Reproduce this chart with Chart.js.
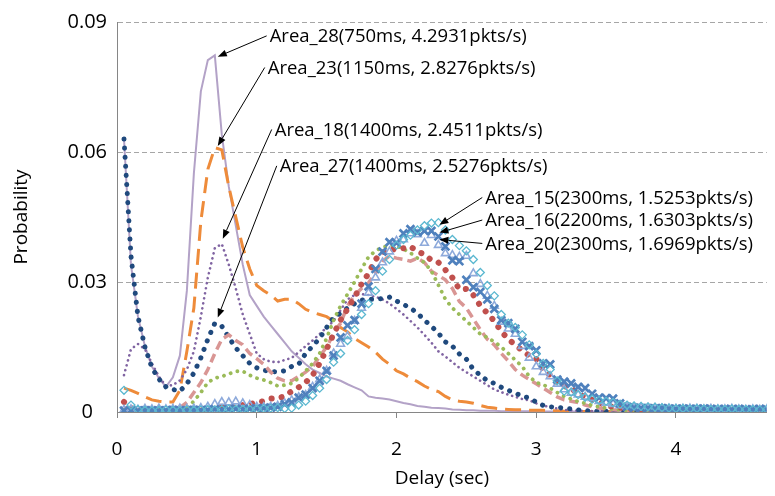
<!DOCTYPE html>
<html>
<head>
<meta charset="utf-8">
<script src="https://cdn.jsdelivr.net/npm/chart.js@4.4.1/dist/chart.umd.min.js"></script>
<style>
  html, body { margin: 0; padding: 0; background: #fff; }
</style>
</head>
<body>
<canvas id="chart" width="775" height="496"></canvas>
<script>
// delay bins (sec)
const delays = [
  0.05, 0.1, 0.15, 0.2, 0.25, 0.3, 0.35, 0.4, 0.45, 0.5,
  0.55, 0.6, 0.65, 0.7, 0.75, 0.8, 0.85, 0.9, 0.95, 1,
  1.05, 1.1, 1.15, 1.2, 1.25, 1.3, 1.35, 1.4, 1.45, 1.5,
  1.55, 1.6, 1.65, 1.7, 1.75, 1.8, 1.85, 1.9, 1.95, 2,
  2.05, 2.1, 2.15, 2.2, 2.25, 2.3, 2.35, 2.4, 2.45, 2.5,
  2.55, 2.6, 2.65, 2.7, 2.75, 2.8, 2.85, 2.9, 2.95, 3,
  3.05, 3.1, 3.15, 3.2, 3.25, 3.3, 3.35, 3.4, 3.45, 3.5,
  3.55, 3.6, 3.65, 3.7, 3.75, 3.8, 3.85, 3.9, 3.95, 4,
  4.05, 4.1, 4.15, 4.2, 4.25, 4.3, 4.35, 4.4, 4.45, 4.5,
  4.55, 4.6, 4.65
];

const area28 = [
  0.063, 0.034, 0.022, 0.0152, 0.0105, 0.0078, 0.0058, 0.008, 0.013, 0.028,
  0.055, 0.074, 0.0812, 0.0823, 0.064, 0.052, 0.043, 0.034, 0.027, 0.0245,
  0.022, 0.020, 0.018, 0.016, 0.014, 0.0125, 0.011, 0.0098, 0.009, 0.0082,
  0.0077, 0.0072, 0.0064, 0.0057, 0.005, 0.0036, 0.0033, 0.0031, 0.0029, 0.0025,
  0.0021, 0.0018, 0.0014, 0.0012, 0.001, 0.0009, 0.0008, 0.0006, 0.0005, 0.0004,
  0.0004, 0.0003, 0.0003, 0.0003, 0.0002, 0.0002, 0.0002, 0.0002, 0.0002, 0.0001,
  0.0001, 0.0001, 0.0001, 0.0001, 0.0001, 0.0001, 0.0001, 0.0001, 0.0001, 0.0001,
  0.0001, 0.0001, 0.0001, 0.0001, 0.0001, 0.0001, 0.0001, 0.0001, 0.0001, 0.0001,
  0.0001, 0.0001, 0.0001, 0.0001, 0.0001, 0.0001, 0.0001, 0.0001, 0.0001, 0.0001,
  0.0001, 0.0001, 0.0001
];

const area23 = [
  0.0055, 0.005, 0.0043, 0.0035, 0.0028, 0.0025, 0.0023, 0.0023, 0.005, 0.014,
  0.024, 0.044, 0.056, 0.061, 0.0605, 0.052, 0.045, 0.038, 0.033, 0.0292,
  0.028, 0.027, 0.0256, 0.026, 0.026, 0.025, 0.0237, 0.023, 0.0225, 0.022,
  0.021, 0.0195, 0.0185, 0.017, 0.016, 0.015, 0.0138, 0.0122, 0.011, 0.0095,
  0.0088, 0.0078, 0.007, 0.006, 0.0052, 0.0047, 0.0036, 0.0028, 0.0025, 0.0023,
  0.002, 0.0015, 0.0011, 0.0009, 0.0007, 0.0006, 0.0005, 0.0005, 0.0004, 0.0004,
  0.0004, 0.0003, 0.0003, 0.0002, 0.0002, 0.0001, 0.0001, 0.0001, 0.0001, 0.0001,
  0.0001, 0.0001, 0.0001, 0.0001, 0.0001, 0.0001, 0.0001, 0.0001, 0.0001, 0.0001,
  0.0001, 0.0001, 0.0001, 0.0001, 0.0001, 0.0001, 0.0001, 0.0001, 0.0001, 0.0001,
  0.0001, 0.0001, 0.0001
];

const area18 = [
  0.0085, 0.0145, 0.0157, 0.0145, 0.0112, 0.0082, 0.006, 0.0062, 0.0073, 0.0098,
  0.014, 0.022, 0.031, 0.0378, 0.0388, 0.034, 0.0285, 0.0225, 0.018, 0.0135,
  0.0122, 0.0116, 0.0115, 0.012, 0.0125, 0.0138, 0.0152, 0.0165, 0.018, 0.0195,
  0.021, 0.0235, 0.026, 0.027, 0.0272, 0.027, 0.0266, 0.026, 0.025, 0.0238,
  0.0225, 0.021, 0.0195, 0.0178, 0.016, 0.014, 0.0128, 0.0115, 0.0102, 0.0092,
  0.0082, 0.0072, 0.0062, 0.0052, 0.0046, 0.004, 0.0035, 0.003, 0.0027, 0.002,
  0.0015, 0.0011, 0.0008, 0.0005, 0.0004, 0.0003, 0.0003, 0.0002, 0.0002, 0.0002,
  0.0001, 0.0001, 0.0001, 0.0001, 0.0001, 0.0001, 0.0001, 0.0001, 0.0001, 0.0001,
  0.0001, 0.0001, 0.0001, 0.0001, 0.0001, 0.0001, 0.0001, 0.0001, 0.0001, 0.0001,
  0.0001, 0.0001, 0.0001
];

const area27 = [
  0.063, 0.036, 0.022, 0.015, 0.0102, 0.0076, 0.0058, 0.0052, 0.0048, 0.0065,
  0.009, 0.0125, 0.0168, 0.0205, 0.0198, 0.0172, 0.0148, 0.013, 0.0112, 0.0102,
  0.0096, 0.0094, 0.0092, 0.0095, 0.0105, 0.011, 0.0135, 0.0152, 0.017, 0.0195,
  0.0218, 0.0228, 0.024, 0.025, 0.0258, 0.026, 0.026, 0.0262, 0.0265, 0.0256,
  0.0248, 0.024, 0.0228, 0.0212, 0.0198, 0.0182, 0.0162, 0.0152, 0.0134, 0.0122,
  0.0098, 0.0085, 0.0072, 0.0066, 0.0057, 0.005, 0.0044, 0.0036, 0.0033, 0.0023,
  0.0015, 0.0012, 0.0011, 0.0009, 0.0007, 0.0005, 0.0003, 0.0002, 0.0002, 0.0002,
  0.0001, 0.0001, 0.0001, 0.0001, 0.0001, 0.0001, 0.0001, 0.0001, 0.0001, 0.0001,
  0.0001, 0.0001, 0.0001, 0.0001, 0.0001, 0.0001, 0.0001, 0.0001, 0.0001, 0.0001,
  0.0001, 0.0001, 0.0001
];

// unlabelled series (pink dashed, green dotted, red dotted)
const pinkSeries = [
  0.001, 0.0008, 0.0006, 0.0005, 0.0004, 0.0004, 0.0004, 0.0006, 0.001, 0.0022,
  0.0045, 0.0068, 0.0098, 0.0135, 0.0168, 0.0178, 0.0165, 0.0155, 0.0135, 0.0123,
  0.011, 0.0092, 0.0078, 0.0072, 0.0072, 0.0082, 0.0092, 0.0105, 0.0128, 0.015,
  0.018, 0.0205, 0.0245, 0.027, 0.0285, 0.0298, 0.032, 0.0348, 0.036, 0.0355,
  0.0352, 0.0348, 0.0355, 0.0345, 0.0325, 0.0315, 0.0305, 0.0285, 0.0255, 0.024,
  0.0215, 0.019, 0.0168, 0.0155, 0.0135, 0.0118, 0.0098, 0.0085, 0.0075, 0.0065,
  0.0055, 0.0045, 0.0035, 0.0028, 0.0025, 0.0022, 0.0016, 0.0012, 0.0009, 0.0007,
  0.0005, 0.0004, 0.0003, 0.0003, 0.0002, 0.0002, 0.0002, 0.0001, 0.0001, 0.0001,
  0.0001, 0.0001, 0.0001, 0.0001, 0.0001, 0.0001, 0.0001, 0.0001, 0.0001, 0.0001,
  0.0001, 0.0001, 0.0001
];

const greenSeries = [
  0.0005, 0.0005, 0.0004, 0.0004, 0.0004, 0.0004, 0.0004, 0.0005, 0.0008, 0.001,
  0.0025, 0.0045, 0.0068, 0.0078, 0.0082, 0.0088, 0.0094, 0.0094, 0.0085, 0.0078,
  0.0074, 0.0068, 0.006, 0.0062, 0.0066, 0.0078, 0.0095, 0.0112, 0.0135, 0.017,
  0.0212, 0.0245, 0.0272, 0.030, 0.033, 0.0358, 0.0372, 0.038, 0.0384, 0.0383,
  0.0376, 0.0367, 0.0355, 0.0345, 0.0325, 0.0293, 0.026, 0.024, 0.0225, 0.021,
  0.0195, 0.018, 0.0172, 0.0162, 0.015, 0.0135, 0.012, 0.0105, 0.0082, 0.0068,
  0.0063, 0.0055, 0.0045, 0.0036, 0.003, 0.0024, 0.002, 0.0015, 0.0012, 0.0009,
  0.0007, 0.0005, 0.0004, 0.0003, 0.0003, 0.0002, 0.0002, 0.0001, 0.0001, 0.0001,
  0.0001, 0.0001, 0.0001, 0.0001, 0.0001, 0.0001, 0.0001, 0.0001, 0.0001, 0.0001,
  0.0001, 0.0001, 0.0001
];

const redSeries = [
  0.0023, 0.0009, 0.0004, 0.0003, 0.0003, 0.0003, 0.0003, 0.0003, 0.0003, 0.0003,
  0.0003, 0.0004, 0.0005, 0.0008, 0.0012, 0.0012, 0.0014, 0.0016, 0.0018, 0.0022,
  0.0025, 0.0031, 0.0032, 0.0036, 0.0048, 0.0057, 0.0068, 0.0085, 0.0112, 0.0145,
  0.018, 0.0212, 0.0238, 0.0265, 0.0295, 0.032, 0.0352, 0.0368, 0.0376, 0.0375,
  0.0378, 0.0382, 0.037, 0.0364, 0.035, 0.0345, 0.0328, 0.031, 0.0283, 0.0284,
  0.027, 0.0245, 0.0228, 0.021, 0.0186, 0.0168, 0.0155, 0.0142, 0.013, 0.0123,
  0.0098, 0.0085, 0.0068, 0.006, 0.0055, 0.0042, 0.0035, 0.0028, 0.0022, 0.0016,
  0.0012, 0.001, 0.0008, 0.0006, 0.0005, 0.0004, 0.0003, 0.0003, 0.0002, 0.0002,
  0.0002, 0.0001, 0.0001, 0.0001, 0.0001, 0.0001, 0.0001, 0.0001, 0.0001, 0.0001,
  0.0001, 0.0001, 0.0001
];

const area15 = [
  0.005, 0.0016, 0.0006, 0.0004, 0.0003, 0.0004, 0.0005, 0.0004, 0.0003, 0.0005,
  0.0004, 0.0005, 0.0006, 0.0005, 0.0006, 0.0007, 0.0006, 0.0006, 0.0006, 0.0007,
  0.0008, 0.0009, 0.001, 0.0008, 0.0009, 0.0016, 0.0025, 0.0038, 0.0055, 0.0075,
  0.0115, 0.0135, 0.0165, 0.019, 0.0225, 0.025, 0.028, 0.0325, 0.0352, 0.0385,
  0.0398, 0.0408, 0.042, 0.043, 0.0436, 0.0437, 0.042, 0.0398, 0.0384, 0.0372,
  0.0352, 0.0322, 0.0292, 0.0268, 0.0225, 0.0205, 0.0195, 0.0178, 0.0155, 0.0134,
  0.0112, 0.0098, 0.0072, 0.0048, 0.0046, 0.004, 0.0034, 0.003, 0.0027, 0.0025,
  0.0022, 0.0018, 0.0016, 0.0014, 0.0013, 0.0012, 0.0011, 0.001, 0.0009, 0.0008,
  0.0008, 0.0007, 0.0008, 0.0007, 0.0006, 0.0007, 0.0006, 0.0007, 0.0006, 0.0006,
  0.0006, 0.0005, 0.0006
];

const area16 = [
  0.0003, 0.0004, 0.0003, 0.0004, 0.0004, 0.0003, 0.0004, 0.0005, 0.0004, 0.0004,
  0.0005, 0.0004, 0.0005, 0.0006, 0.0005, 0.0006, 0.0007, 0.0006, 0.0007, 0.0008,
  0.0009, 0.001, 0.0012, 0.0018, 0.0022, 0.0033, 0.004, 0.0055, 0.0072, 0.0095,
  0.013, 0.0172, 0.020, 0.0212, 0.025, 0.029, 0.033, 0.037, 0.0392, 0.039,
  0.0412, 0.0422, 0.0415, 0.0418, 0.0418, 0.0405, 0.0382, 0.035, 0.0348, 0.0305,
  0.0288, 0.0277, 0.026, 0.0238, 0.0212, 0.0205, 0.0192, 0.0162, 0.0152, 0.0142,
  0.0112, 0.011, 0.0075, 0.007, 0.0066, 0.0058, 0.0055, 0.0042, 0.0033, 0.0032,
  0.0031, 0.002, 0.0012, 0.001, 0.0009, 0.0009, 0.0008, 0.0009, 0.0008, 0.0007,
  0.0008, 0.0007, 0.0007, 0.0008, 0.0007, 0.0006, 0.0007, 0.0006, 0.0007, 0.0006,
  0.0006, 0.0007, 0.0006
];

const area20 = [
  0.0005, 0.0006, 0.0005, 0.0007, 0.0006, 0.0008, 0.0006, 0.0007, 0.0008, 0.0007,
  0.0008, 0.0009, 0.0012, 0.0018, 0.0023, 0.0022, 0.0024, 0.002, 0.0016, 0.0012,
  0.0011, 0.0012, 0.0014, 0.002, 0.0027, 0.0034, 0.0039, 0.0058, 0.0075, 0.0095,
  0.0135, 0.0157, 0.0175, 0.021, 0.024, 0.0275, 0.031, 0.0345, 0.037, 0.0395,
  0.0398, 0.0412, 0.041, 0.039, 0.0408, 0.0385, 0.0366, 0.0362, 0.0358, 0.036,
  0.032, 0.0295, 0.0268, 0.0245, 0.0208, 0.0192, 0.018, 0.0152, 0.0125, 0.0105,
  0.0092, 0.0082, 0.0065, 0.0052, 0.0044, 0.004, 0.0035, 0.0032, 0.0025, 0.0021,
  0.0018, 0.0015, 0.0012, 0.0011, 0.001, 0.0009, 0.0009, 0.0008, 0.0008, 0.0007,
  0.0007, 0.0008, 0.0007, 0.0006, 0.0007, 0.0006, 0.0006, 0.0007, 0.0006, 0.0005,
  0.0006, 0.0005, 0.0006
];

const xTicks = [0, 1, 2, 3, 4];
const yTicks = [0, 0.03, 0.06, 0.09];

// callouts: arrow tail (where text starts) and tip, in data units
const callouts = [
  { text: 'Area_28(750ms, 4.2931pkts/s)',  tail: [1.071, 0.0868], tip: [0.721, 0.0820] },
  { text: 'Area_23(1150ms, 2.8276pkts/s)', tail: [1.057, 0.0795], tip: [0.721, 0.0614] },
  { text: 'Area_18(1400ms, 2.4511pkts/s)', tail: [1.107, 0.0652], tip: [0.757, 0.0400] },
  { text: 'Area_27(1400ms, 2.5276pkts/s)', tail: [1.143, 0.0568], tip: [0.721, 0.0218] },
  { text: 'Area_15(2300ms, 1.5253pkts/s)', tail: [2.614, 0.0495], tip: [2.307, 0.0432] },
  { text: 'Area_16(2200ms, 1.6303pkts/s)', tail: [2.614, 0.0443], tip: [2.307, 0.0414] },
  { text: 'Area_20(2300ms, 1.6969pkts/s)', tail: [2.614, 0.0389], tip: [2.307, 0.0398] }
];

const FONT = "'Open Sans', 'DejaVu Sans', sans-serif";

function pts(vals) {
  return vals.map((v, i) => ({ x: delays[i], y: v }));
}

const calloutPlugin = {
  id: 'callouts',
  afterDatasetsDraw(chart) {
    const { ctx, scales: { x, y } } = chart;
    ctx.save();
    ctx.fillStyle = '#000';
    ctx.strokeStyle = '#000';
    ctx.lineWidth = 1;
    ctx.font = "18.5px " + FONT;
    ctx.textBaseline = 'middle';
    callouts.forEach(c => {
      const x0 = x.getPixelForValue(c.tail[0]), y0 = y.getPixelForValue(c.tail[1]);
      const x1 = x.getPixelForValue(c.tip[0]), y1 = y.getPixelForValue(c.tip[1]);
      const ang = Math.atan2(y1 - y0, x1 - x0);
      const len = 9, half = 3.5;
      const bx = x1 - Math.cos(ang) * len, by = y1 - Math.sin(ang) * len;
      ctx.beginPath();
      ctx.moveTo(x0, y0);
      ctx.lineTo(bx, by);
      ctx.stroke();
      ctx.beginPath();
      ctx.moveTo(x1, y1);
      ctx.lineTo(bx + Math.sin(ang) * half, by - Math.cos(ang) * half);
      ctx.lineTo(bx - Math.sin(ang) * half, by + Math.cos(ang) * half);
      ctx.closePath();
      ctx.fill();
      ctx.fillText(c.text, x0 + 3, y0 + 1);
    });
    ctx.restore();
  }
};

const hollow = 'rgba(255,255,255,0)';

new Chart(document.getElementById('chart'), {
  type: 'line',
  data: {
    datasets: [
      { label: 'Area_15', data: pts(area15), showLine: false, pointStyle: 'rectRot',
        pointRadius: 4, pointBorderWidth: 1.3, pointBorderColor: '#5BB8D0', pointBackgroundColor: hollow, borderColor: '#5BB8D0' },
      { label: 'Area_16', data: pts(area16), showLine: false, pointStyle: 'crossRot',
        pointRadius: 5.5, pointBorderWidth: 2.7, pointBorderColor: '#4F81BD', borderColor: '#4F81BD' },
      { label: 'Area_20', data: pts(area20), showLine: false, pointStyle: 'triangle',
        pointRadius: 4.5, pointBorderWidth: 1.6, pointBorderColor: '#8EAADB', pointBackgroundColor: hollow, borderColor: '#8EAADB' },
      { label: 'red', data: pts(redSeries), borderColor: '#C0504D', borderWidth: 6,
        borderDash: [0.1, 10], borderCapStyle: 'round', pointRadius: 0 },
      { label: 'green', data: pts(greenSeries), borderColor: '#9BBB59', borderWidth: 3.8,
        borderDash: [0.1, 7], borderCapStyle: 'round', pointRadius: 0 },
      { label: 'pink', data: pts(pinkSeries), borderColor: '#D99694', borderWidth: 3.5,
        borderDash: [9, 5], pointRadius: 0 },
      { label: 'Area_27', data: pts(area27), borderColor: '#1F497D', borderWidth: 5,
        borderDash: [0.1, 9], borderCapStyle: 'round', pointRadius: 0 },
      { label: 'Area_18', data: pts(area18), borderColor: '#8064A2', borderWidth: 2.6,
        borderDash: [0.1, 5], borderCapStyle: 'round', pointRadius: 0 },
      { label: 'Area_23', data: pts(area23), borderColor: '#EE8B3A', borderWidth: 3,
        borderDash: [16, 8], pointRadius: 0 },
      { label: 'Area_28', data: pts(area28), borderColor: '#B3A2C7', borderWidth: 2,
        pointRadius: 0 }
    ]
  },
  options: {
    responsive: false,
    animation: false,
    layout: { padding: { top: 16, right: 8, left: 0, bottom: 0 } },
    plugins: {
      legend: { display: false },
      tooltip: { enabled: false }
    },
    scales: {
      x: {
        type: 'linear',
        min: 0,
        max: 4.65,
        afterBuildTicks: s => { s.ticks = xTicks.map(v => ({ value: v })); },
        afterFit: s => { s.height = 84; },
        ticks: { color: '#000', padding: 20, font: { family: FONT, size: 19 }, maxRotation: 0 },
        grid: { drawOnChartArea: false, drawTicks: true, tickLength: 6, color: '#868686' },
        border: { display: true, color: '#868686', width: 1 },
        title: { display: true, text: 'Delay (sec)', color: '#000', padding: 6,
                 font: { family: FONT, size: 19 } }
      },
      y: {
        min: 0,
        max: 0.09,
        afterBuildTicks: s => { s.ticks = yTicks.map(v => ({ value: v })); },
        afterFit: s => { s.width = 117; },
        ticks: { color: '#000', padding: 10, crossAlign: 'center',
                 font: { family: FONT, size: 20 },
                 callback: v => v === 0 ? '0' : v.toFixed(2) },
        grid: { drawTicks: false, lineWidth: 1,
                color: c => c.tick && c.tick.value === 0 ? hollow : '#A6A6A6' },
        border: { display: true, color: '#868686', width: 1, dash: [5, 3] },
        title: { display: true, text: 'Probability', color: '#000', padding: 10,
                 font: { family: FONT, size: 19 } }
      }
    }
  },
  plugins: [calloutPlugin]
});
</script>
</body>
</html>
